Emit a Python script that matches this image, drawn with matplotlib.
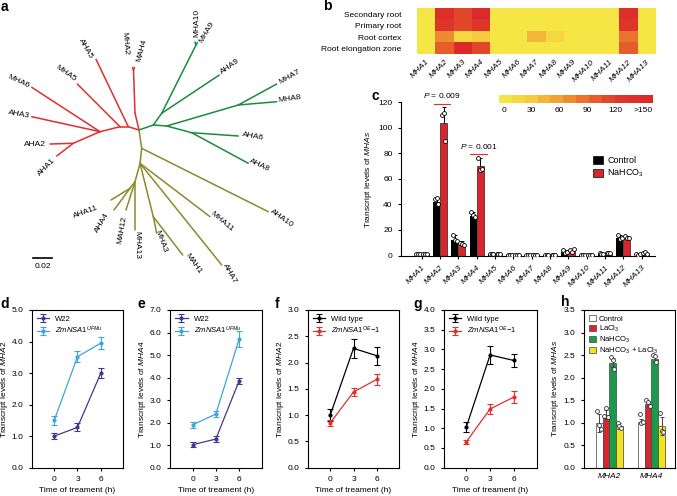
import numpy as np
import matplotlib
matplotlib.use("Agg")
import matplotlib.pyplot as plt
from matplotlib.colors import LinearSegmentedColormap
from matplotlib.patches import Patch

plt.rcParams['font.family'] = ['Liberation Sans', 'DejaVu Sans']
plt.rcParams['mathtext.fontset'] = 'custom'
plt.rcParams['mathtext.rm'] = 'Liberation Sans'
plt.rcParams['mathtext.it'] = 'Liberation Sans:italic'
plt.rcParams['font.size'] = 6
plt.rcParams['axes.linewidth'] = 0.8
plt.rcParams['xtick.major.width'] = 0.8
plt.rcParams['ytick.major.width'] = 0.8
plt.rcParams['xtick.major.size'] = 2.5
plt.rcParams['ytick.major.size'] = 2.5

W, H = 677, 496

# ---------------- data ----------------
# a: tree nodes (layout units = image pixels)
tree_nodes = {
    'C': (139, 130),
    'r1': (135, 113), 'rf': (133.5, 70), 'MHA2': (132.5, 67.5), 'MAH4': (134.5, 67.5),
    'r2': (128.3, 126.7), 'AHA5': (96, 59.3),
    'r3': (120, 126.7), 'MHA5': (77.3, 84),
    'r4': (100, 131.7), 'MHA6': (31.7, 87.3), 'AHA3': (31.7, 116.7),
    'r5': (73.3, 143.3), 'AHA2': (50, 144), 'AHA1': (56.7, 156),
    'g1': (153.3, 125), 'g2': (161.7, 113.3), 'gf': (196, 45),
    'MHA10': (195, 42), 'MHA9': (197.5, 42.5), 'AHA9': (219.3, 75),
    'g3': (166.7, 126), 'g4': (238.3, 105), 'MHA7': (276.7, 84), 'MHA8': (276.7, 101.7),
    'g5': (191.7, 132.7), 'AHA6': (238.3, 136), 'AHA8': (248.3, 163.3),
    'o1': (141.7, 148.3), 'AHA10': (268.3, 211.7),
    'o2': (140, 163.3), 'MHA11': (210, 216.7), 'AHA7': (221.7, 265),
    'o3': (153.3, 216.7), 'MHA3': (156.7, 233.3), 'MAH1': (182.7, 255),
    'o4': (135, 181.7), 'o5': (130, 188.3), 'AHA11': (111, 200), 'AHA4': (114, 210),
    'MAH12': (126, 210), 'MHA13': (135, 230),
}
red_edges = [('C', 'r1'), ('r1', 'rf'), ('rf', 'MHA2'), ('rf', 'MAH4'), ('C', 'r2'),
             ('r2', 'AHA5'), ('r2', 'r3'), ('r3', 'MHA5'), ('r3', 'r4'), ('r4', 'MHA6'),
             ('r4', 'AHA3'), ('r4', 'r5'), ('r5', 'AHA2'), ('r5', 'AHA1')]
green_edges = [('C', 'g1'), ('g1', 'g2'), ('g2', 'gf'), ('gf', 'MHA10'), ('gf', 'MHA9'),
               ('g2', 'AHA9'), ('g1', 'g3'), ('g3', 'g4'), ('g4', 'MHA7'), ('g4', 'MHA8'),
               ('g3', 'g5'), ('g5', 'AHA6'), ('g5', 'AHA8')]
olive_edges = [('C', 'o1'), ('o1', 'AHA10'), ('o1', 'o2'), ('o2', 'MHA11'), ('o2', 'AHA7'),
               ('o2', 'o3'), ('o3', 'MHA3'), ('o3', 'MAH1'), ('o2', 'o4'), ('o4', 'o5'),
               ('o5', 'AHA11'), ('o5', 'AHA4'), ('o4', 'MAH12'), ('o4', 'MHA13')]
# leaf labels: text, x, y, rotation
tree_labels = [
    ('MHA10', 196.7, 23, 90), ('MHA9', 207, 32, 60), ('AHA9', 230, 66.7, 35),
    ('MHA7', 290, 77, 30), ('MHA8', 290, 99.3, 8), ('AHA6', 253.3, 136.7, -10),
    ('AHA8', 260, 165, -25), ('AHA10', 282, 218.3, -35), ('MHA11', 222, 222, -40),
    ('AHA7', 230, 273.3, -60), ('MAH1', 193.3, 263.3, -55), ('MHA3', 161, 241.7, -70),
    ('MHA13', 136.7, 245, -90), ('MAH12', 122.7, 230, 80), ('AHA4', 101.7, 222.7, 60),
    ('AHA11', 86, 211.7, 20), ('AHA1', 46.7, 166.7, 45), ('AHA2', 35, 145, 0),
    ('AHA3', 19.3, 114.3, -10), ('MHA6', 18.3, 81.7, -25), ('MHA5', 66, 73.3, -35),
    ('AHA5', 86, 48.3, -60), ('MHA2', 125, 43.3, -85), ('MAH4', 141.7, 50, 75),
]

# b: heatmap
tissues = ['Secondary root', 'Primary root', 'Root cortex', 'Root elongation zone']
genes = ['MHA%d' % i for i in range(1, 14)]
heat = np.array([
    [5, 140, 110, 150, 3, 3, 3, 3, 3, 3, 3, 145, 5],
    [5, 122, 108, 125, 3, 3, 3, 3, 3, 3, 3, 132, 5],
    [5, 75, 22, 35, 3, 3, 42, 16, 8, 3, 3, 90, 5],
    [5, 100, 150, 115, 3, 3, 3, 3, 3, 3, 3, 95, 5],
])

# c: bars
ctrl_mean = [1, 42, 12, 31, 1.2, 0.5, 0.5, 0.5, 3, 0.5, 1.5, 14, 1]
ctrl_err = [0.3, 3, 4, 3, 0.3, 0.2, 0.2, 0.2, 1, 0.2, 0.4, 2, 0.5]
na_mean = [1.5, 104, 9, 70, 1.2, 0.5, 0.5, 0.5, 4, 0.5, 2, 14, 2]
na_err = [0.3, 12, 2, 6, 0.3, 0.2, 0.2, 0.2, 1, 0.2, 0.4, 1, 0.6]
ctrl_pts = [[1, 1, 1], [44, 45, 40], [16, 12, 11], [34, 32, 30], [1.3, 1.2, 1.1],
            [0.5, 0.5, 0.5], [0.5, 0.5, 0.5], [0.5, 0.5, 0.5], [4, 2, 3],
            [0.5, 0.5, 0.5], [1.6, 1.5, 1.4], [16, 13, 14], [1, 0.6, 1.4]]
na_pts = [[1.5, 1.5, 1.5], [110, 112, 90], [10, 9, 8], [76, 67, 68], [1.2, 1.2, 1.2],
          [0.5, 0.5, 0.5], [0.5, 0.5, 0.5], [0.5, 0.5, 0.5], [4, 3, 5],
          [0.5, 0.5, 0.5], [2, 2, 2], [15, 14, 14], [2, 2.5, 1.5]]

# d-g: time courses
hours = [0, 3, 6]
d_w22 = [1.0, 1.28, 3.0]; d_w22_err = [0.1, 0.13, 0.15]
d_upmu = [1.5, 3.52, 3.95]; d_upmu_err = [0.15, 0.17, 0.18]
e_w22 = [1.02, 1.27, 3.85]; e_w22_err = [0.1, 0.12, 0.15]
e_upmu = [1.9, 2.38, 5.7]; e_upmu_err = [0.12, 0.12, 0.35]
f_wt = [1.0, 2.27, 2.13]; f_wt_err = [0.12, 0.18, 0.17]
f_oe = [0.85, 1.44, 1.68]; f_oe_err = [0.05, 0.08, 0.1]
g_wt = [1.04, 2.86, 2.72]; g_wt_err = [0.13, 0.22, 0.16]
g_oe = [0.66, 1.49, 1.79]; g_oe_err = [0.05, 0.13, 0.15]

# h: grouped bars
h_genes = ['MHA2', 'MHA4']
h_treat = ['Control', 'LaCl$_3$', 'NaHCO$_3$', 'NaHCO$_3$ + LaCl$_3$']
h_colors = ['white', '#d8262e', '#1c9a4c', '#f2e41c']
h_mean = [[1.0, 1.02], [1.18, 1.42], [2.33, 2.42], [0.93, 0.93]]
h_err = [[0.2, 0.06], [0.1, 0.06], [0.1, 0.07], [0.07, 0.2]]
h_pts = [[[1.25, 0.95, 0.85], [1.2, 1.0, 1.02]],
         [[1.15, 1.33, 1.12], [1.5, 1.45, 1.38]],
         [[2.45, 2.38, 2.2], [2.5, 2.48, 2.35]],
         [[1.0, 0.93, 0.88], [1.22, 0.82, 0.8]]]

RED = '#e0302e'
GREEN = '#1d8a3e'
OLIVE = '#8a8b2b'

fig = plt.figure(figsize=(W / 100, H / 100), dpi=100)


def px_axes(x0, y0, x1, y1):
    a = fig.add_axes([x0 / W, 1 - y1 / H, (x1 - x0) / W, (y1 - y0) / H])
    a.patch.set_visible(False)
    return a


# ---------------- a ----------------
ax = px_axes(0, 0, W, H)
ax.set_xlim(0, W)
ax.set_ylim(H, 0)
ax.axis('off')
for edges, col in [(red_edges, RED), (green_edges, GREEN), (olive_edges, OLIVE)]:
    for a, b in edges:
        xa, ya = tree_nodes[a]
        xb, yb = tree_nodes[b]
        ax.plot([xa, xb], [ya, yb], color=col, lw=1.1, solid_capstyle='round')
for name, x, y, rot in tree_labels:
    ax.text(x, y, name, rotation=rot, ha='center', va='center', fontsize=6,
            rotation_mode='anchor')
ax.plot([33.3, 51.7], [257.7, 257.7], color='black', lw=1.2)
ax.text(42.5, 266.5, '0.02', ha='center', va='center', fontsize=6)

for lab, x, y in [('a', 1, 7), ('b', 323, 6), ('c', 372, 96), ('d', 0, 304),
                  ('e', 137, 304), ('f', 275, 304), ('g', 413, 304), ('h', 561, 302)]:
    ax.text(x, y, lab, fontsize=10, fontweight='bold', ha='left', va='center')

# ---------------- b ----------------
cmap = LinearSegmentedColormap.from_list(
    'yr', ['#f5e646', '#f5c83c', '#f09a32', '#e8652c', '#e0362a', '#dc2a2a']).resampled(12)
axb = px_axes(416.7, 8.3, 655, 54.3)
im = axb.imshow(heat, cmap=cmap, vmin=-5, vmax=161, aspect='auto')
axb.set_yticks(range(len(tissues)))
axb.set_yticklabels(tissues, fontsize=6)
axb.set_xticks(range(len(genes)))
axb.set_xticklabels(genes, rotation=45, ha='right', rotation_mode='anchor',
                    fontstyle='italic', fontsize=6)
axb.tick_params(axis='y', length=0, pad=11)
axb.tick_params(axis='x', length=0, pad=3)
for s in axb.spines.values():
    s.set_visible(False)

cax = px_axes(499, 95, 653, 103)
cb = fig.colorbar(im, cax=cax, orientation='horizontal')
cb.outline.set_visible(False)
cb.set_ticks([0, 30, 60, 90, 120, 150])
cb.set_ticklabels(['0', '30', '60', '90', '120', '>150'])
cax.tick_params(length=0, labelsize=6, pad=3)

# ---------------- c ----------------
axc = px_axes(401, 102.3, 655, 255.5)
x = np.arange(len(genes))
bw = 0.38
axc.bar(x - bw / 2, ctrl_mean, bw, color='black', zorder=2)
axc.bar(x + bw / 2, na_mean, bw, color='#d8262e', edgecolor='black', lw=0.4, zorder=2)
axc.errorbar(x - bw / 2, ctrl_mean, yerr=ctrl_err, fmt='none', ecolor='black',
             elinewidth=0.7, capsize=1.5, capthick=0.7, zorder=1)
axc.errorbar(x + bw / 2, na_mean, yerr=na_err, fmt='none', ecolor='black',
             elinewidth=0.7, capsize=1.5, capthick=0.7, zorder=1)
offs = np.array([-0.1, 0.0, 0.1])
for i in range(len(genes)):
    axc.plot(x[i] - bw / 2 + offs, ctrl_pts[i], 'o', ms=2.8, mfc='white', mec='black',
             mew=0.6, zorder=3)
    axc.plot(x[i] + bw / 2 + offs, na_pts[i], 'o', ms=2.8, mfc='white', mec='black',
             mew=0.6, zorder=3)
axc.set_xlim(-1.13, 12.73)
axc.set_ylim(0, 120)
axc.set_yticks(range(0, 121, 20))
axc.set_xticks(x)
axc.set_xticklabels(genes, rotation=45, ha='right', rotation_mode='anchor',
                    fontstyle='italic', fontsize=6)
axc.spines['top'].set_visible(False)
axc.spines['right'].set_visible(False)
axc.set_ylabel('Transcript levels of $\\mathit{MHAs}$', fontsize=6, labelpad=3)
axc.plot([0.65, 1.55], [118.4, 118.4], color=RED, lw=0.8, clip_on=False)
axc.text(1.1, 121.5, '$\\mathit{P}$ = 0.009', ha='center', va='bottom', fontsize=6)
axc.plot([2.65, 3.55], [79.2, 79.2], color=RED, lw=0.8)
axc.text(3.1, 82, '$\\mathit{P}$ = 0.001', ha='center', va='bottom', fontsize=6)
axc.legend(handles=[Patch(facecolor='black', edgecolor='black', lw=0.5, label='Control'),
                    Patch(facecolor='#d8262e', edgecolor='black', lw=0.5, label='NaHCO$_3$')],
           loc='upper left', bbox_to_anchor=(0.74, 0.68), frameon=False, fontsize=6.5,
           handlelength=1.0, handleheight=1.0, handletextpad=0.5, labelspacing=0.3,
           borderpad=0)


# ---------------- d-g ----------------
def time_panel(box, s1, e1, s2, e2, c1, c2, l1, l2, ymax, ystep, gene):
    a = px_axes(*box)
    a.errorbar(hours, s1, yerr=e1, color=c1, lw=0.9, marker='o', ms=2, capsize=2,
               capthick=0.8, elinewidth=0.8, label=l1)
    a.errorbar(hours, s2, yerr=e2, color=c2, lw=0.9, marker='o', ms=2, capsize=2,
               capthick=0.8, elinewidth=0.8, label=l2)
    a.set_xlim(-2.9, 8.9)
    a.set_ylim(0, ymax)
    a.set_xticks(hours)
    a.set_yticks(np.arange(0, ymax + 0.01, ystep))
    a.yaxis.set_major_formatter(matplotlib.ticker.FormatStrFormatter('%.1f'))
    a.set_xlabel('Time of treament (h)', fontsize=6, labelpad=3)
    a.set_ylabel('Transcript levels of $\\mathit{%s}$' % gene, fontsize=6, labelpad=1)
    a.legend(loc='upper left', frameon=False, fontsize=5.5, handlelength=1.6,
             borderaxespad=0.3, labelspacing=0.3)
    return a


time_panel((31.7, 310, 123.3, 467.7), d_w22, d_w22_err, d_upmu, d_upmu_err,
           '#3c3a8e', '#3fa3dc', 'W22', '$\\mathit{ZmNSA1}^{\\mathit{UFMu}}$', 5, 1.0, 'MHA2')
time_panel((170, 310, 261.6, 467.7), e_w22, e_w22_err, e_upmu, e_upmu_err,
           '#3c3a8e', '#3fa3dc', 'W22', '$\\mathit{ZmNSA1}^{\\mathit{UFMu}}$', 7, 1.0, 'MHA4')
time_panel((307.7, 310, 399.3, 467.7), f_wt, f_wt_err, f_oe, f_oe_err,
           'black', RED, 'Wild type', '$\\mathit{ZmNSA1}^{\\mathit{OE}}\\mathit{-1}$', 3, 0.5, 'MHA2')
time_panel((443.5, 310, 536.7, 467.7), g_wt, g_wt_err, g_oe, g_oe_err,
           'black', RED, 'Wild type', '$\\mathit{ZmNSA1}^{\\mathit{OE}}\\mathit{-1}$', 4, 0.5, 'MHA4')

# ---------------- h ----------------
axh = px_axes(584, 310, 675, 467.7)
xh = np.arange(len(h_genes))
hw = 0.16
for k in range(len(h_treat)):
    xs = xh + (k - 1.5) * hw
    axh.bar(xs, h_mean[k], hw, color=h_colors[k], edgecolor='#444444', lw=0.5,
            zorder=2, label=h_treat[k])
    axh.errorbar(xs, h_mean[k], yerr=h_err[k], fmt='none', ecolor='#444444',
                 elinewidth=0.7, capsize=1.5, capthick=0.7, zorder=3)
    for j in range(len(h_genes)):
        axh.plot(xs[j] + np.array([-0.04, 0.0, 0.04]), h_pts[k][j], 'o', ms=2.8,
                 mfc='white', mec='#333333', mew=0.6, zorder=4)
axh.set_xlim(-0.6, 1.56)
axh.set_ylim(0, 3.5)
axh.set_yticks(np.arange(0, 3.51, 0.5))
axh.yaxis.set_major_formatter(matplotlib.ticker.FormatStrFormatter('%.1f'))
axh.set_xticks(xh)
axh.set_xticklabels(h_genes, fontstyle='italic', fontsize=6)
axh.tick_params(axis='x', length=0)
axh.set_ylabel('Transcript levels of $\\mathit{MHAs}$', fontsize=6, labelpad=2)
axh.legend(loc='upper left', frameon=False, fontsize=5.5, handlelength=0.9,
           handleheight=0.8, handletextpad=0.4, labelspacing=0.12, borderaxespad=0.25)

fig.savefig('out.png', dpi=100)
